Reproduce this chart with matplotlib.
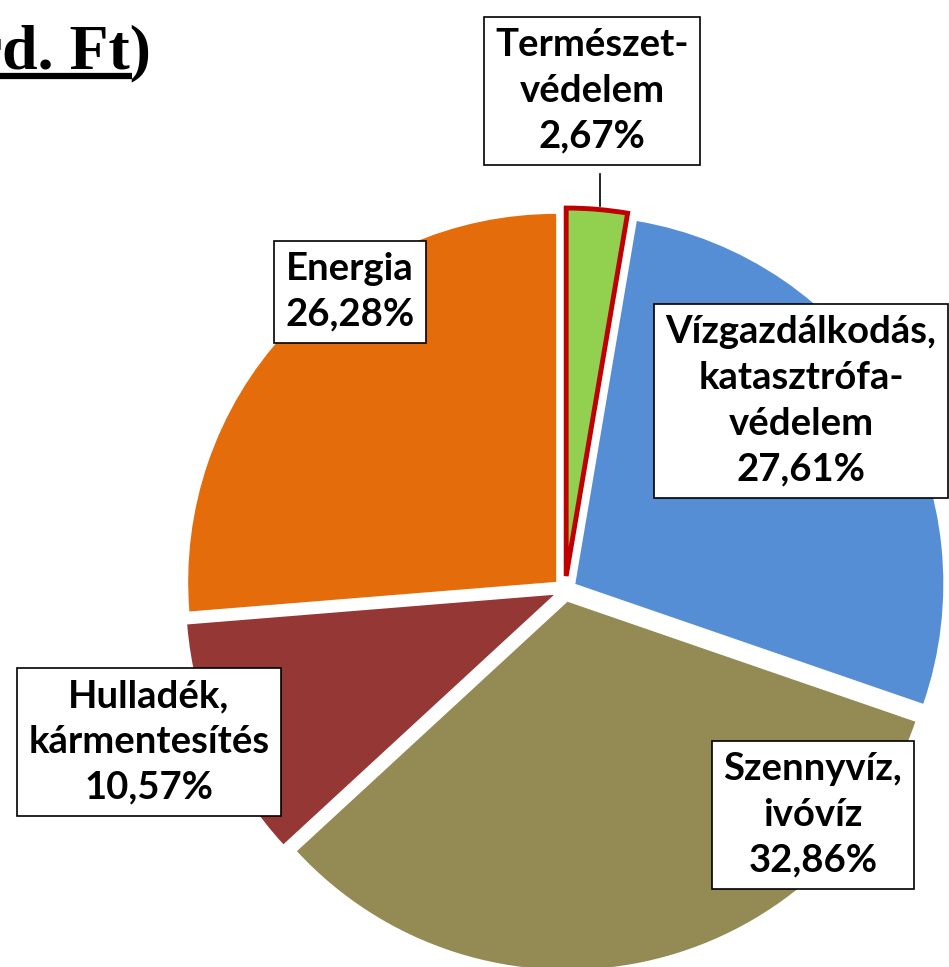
import numpy as np
import matplotlib.pyplot as plt

# category names and shares (%)
labels = ['Természet-\nvédelem', 'Vízgazdálkodás,\nkatasztrófa-\nvédelem', 'Szennyvíz,\nivóvíz',
          'Hulladék,\nkármentesítés', 'Energia']
shares = [2.67, 27.61, 32.86, 10.57, 26.28]
colors = ['#92D050', '#558ED5', '#948A54', '#953735', '#E46C0A']

W, H = 949, 967
fig = plt.figure(figsize=(W / 100, H / 100), dpi=100)
ax = fig.add_axes([0, 0, 1, 1])

cx, cy, r = 565, H - 590, 368
wedges, _ = ax.pie(shares, colors=colors, startangle=90, counterclock=False,
                   center=(cx, cy), radius=r, explode=[14, 12, 12, 12, 12],
                   wedgeprops=dict(linewidth=0), frame=True)
ax.axis('off')
ax.set_xlim(0, W)
ax.set_ylim(0, H)
ax.set_aspect('equal')
wedges[0].set_edgecolor('#C00000')
wedges[0].set_linewidth(3.5)

# label boxes (centre positions in pixels from top-left)
box_pos = [(592, 91), (801, 401), (813, 815), (149, 742), (350, 292)]
for lab, s, (bx, by) in zip(labels, shares, box_pos):
    txt = lab + '\n' + ('%.2f' % s).replace('.', ',') + '%'
    ax.text(bx, H - by, txt, ha='center', va='center', fontsize=27.5,
            fontweight='bold', family='Lato', linespacing=1.42,
            bbox=dict(boxstyle='square,pad=0.3', fc='white', ec='black', lw=1.2))

# leader line for the small slice
ax.plot([600, 600], [H - 174, H - 206], color='black', lw=1.2)

# cut-off title
ax.text(151, H - 68, '(Mrd. Ft)', ha='right', va='baseline', fontsize=46,
        fontweight='bold', family='Liberation Serif')
ax.plot([0, 132], [H - 76, H - 76], color='black', lw=4.5, solid_capstyle='butt')

fig.savefig('out.png', dpi=100)
